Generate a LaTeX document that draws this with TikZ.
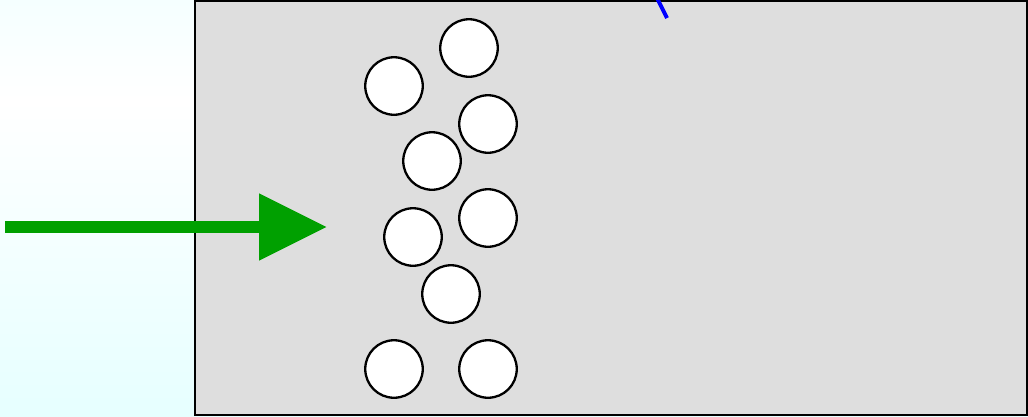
\documentclass[tikz,border=0pt]{standalone}
\usetikzlibrary{arrows.meta}
\definecolor{skytop}{HTML}{F5FFFF}
\definecolor{skybot}{HTML}{E6FFFF}
\definecolor{panel}{HTML}{DEDEDE}
\definecolor{flow}{HTML}{00A000}
\tikzset{
  grain/.style={circle, draw=black, line width=2.3pt, fill=white, minimum size=57.5pt, inner sep=0pt},
}
\begin{document}
\begin{tikzpicture}[x=1pt, y=-1pt]
  \useasboundingbox (0,0) rectangle (1028,416);
  \clip (0,0) rectangle (1028,416);
  % background sky
  \shade[top color=skytop, bottom color=white] (0,0) rectangle (1028,100);
  \shade[top color=white, bottom color=skybot] (0,100) rectangle (1028,416);
  % chamber
  \draw[line width=2pt, fill=panel] (195,1) rectangle (1027,415);
  % grains
  \node[grain] (g1) at (469,48) {};
  \node[grain] (g2) at (394,86) {};
  \node[grain] (g3) at (488,124) {};
  \node[grain] (g4) at (432,161) {};
  \node[grain] (g5) at (488,218) {};
  \node[grain] (g6) at (413,237) {};
  \node[grain] (g7) at (451,294) {};
  \node[grain] (g8) at (394,369) {};
  \node[grain] (g9) at (488,369) {};
  % incoming flow
  \coordinate (src) at (5,227);
  \coordinate (tip) at (327,227);
  \draw[flow, line width=12pt, -{Triangle[length=68pt, width=64pt]}] (src) -- (tip);
  % blue marker
  \coordinate (m1) at (656,-4);
  \coordinate (m2) at (667,18);
  \draw[blue, line width=4pt] (m1) -- (m2);
\end{tikzpicture}
\end{document}
